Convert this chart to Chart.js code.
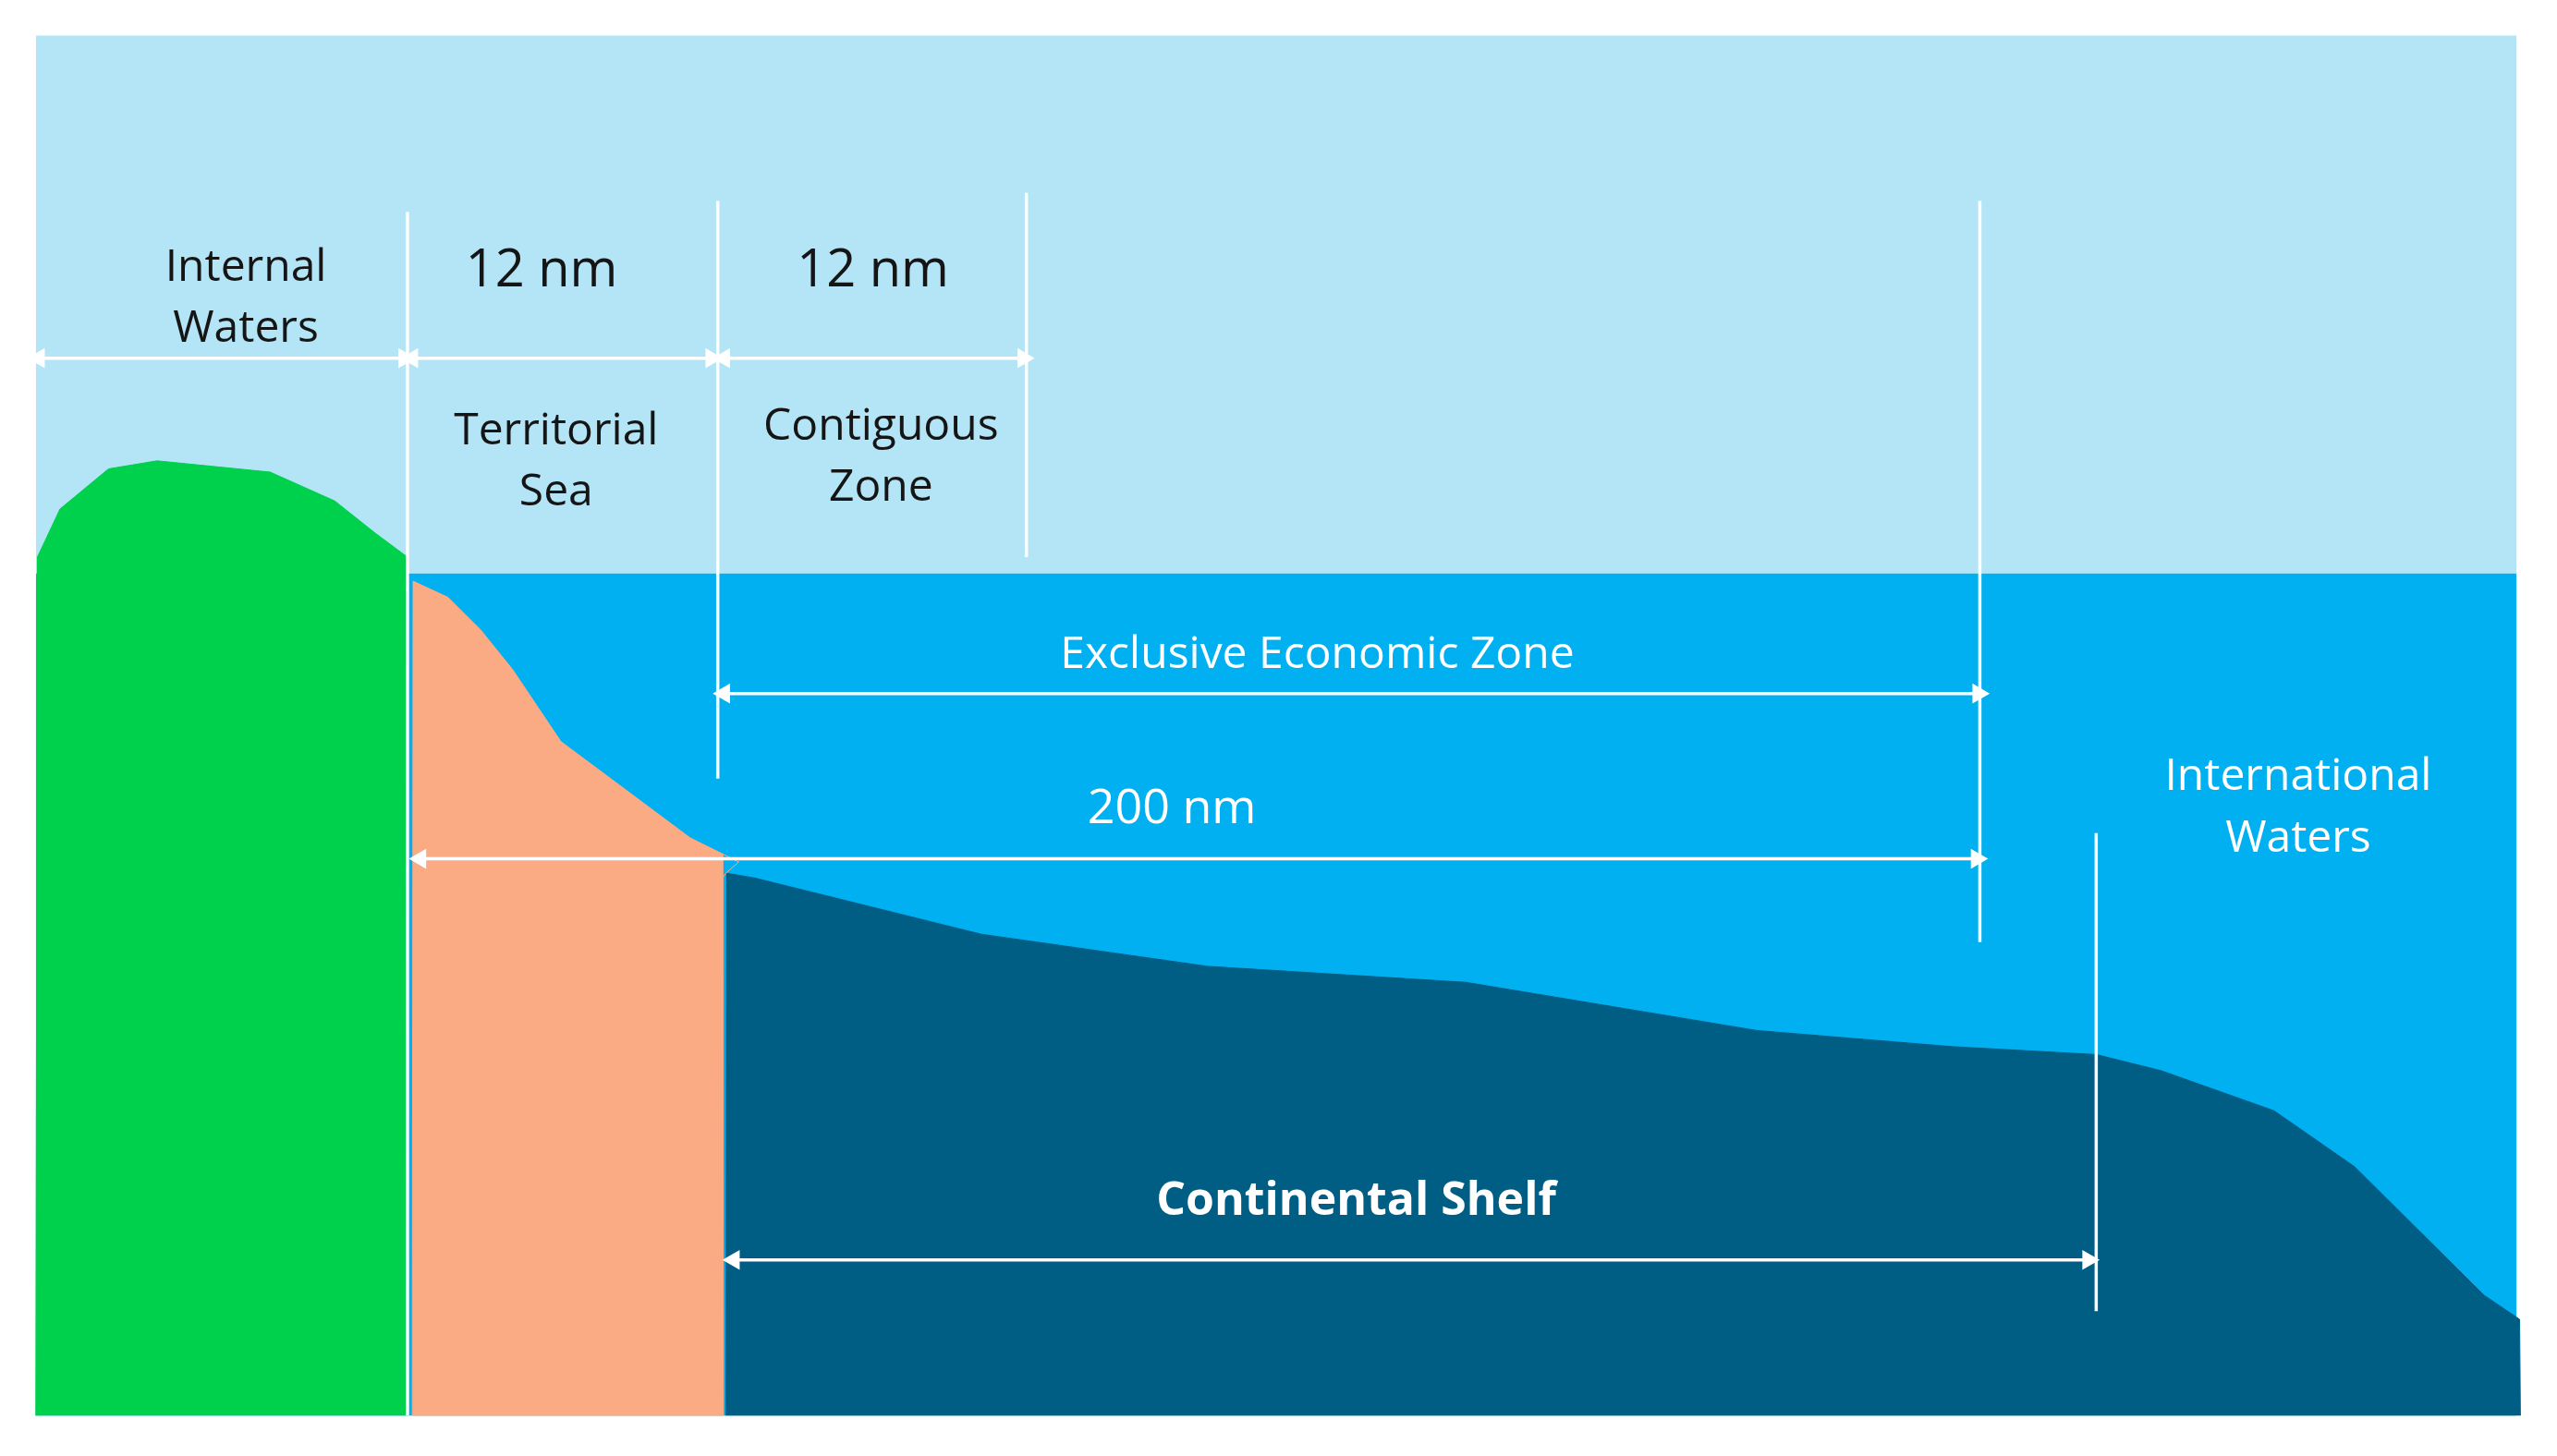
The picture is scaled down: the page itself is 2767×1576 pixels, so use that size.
<!DOCTYPE html>
<html>
<head>
<meta charset="utf-8">
<script src="https://cdn.jsdelivr.net/npm/chart.js@4"></script>
<style>
  html, body { margin: 0; padding: 0; background: #fff; }
  #wrap { width: 2767px; height: 1576px; }
</style>
</head>
<body>
<div id="wrap"><canvas id="zones"></canvas></div>
<script>
// profile data, in the reference diagram's own units (x 0..1568, y 0..893 downwards)
var landX  = [15, 16, 30, 60, 90, 160, 200, 225, 245, 245.5];
var landY  = [875, 340, 310, 285, 280, 287, 305, 325, 340, 875];

var slopeX = [248, 248.5, 270, 290, 310, 340, 380, 420, 450, 442, 440, 440.5];
var slopeY = [875, 355, 365, 385, 410, 455, 485, 515, 530, 537, 540, 875];

var shelfX = [442, 442.5, 460, 500, 600, 740, 900, 1080, 1200, 1290, 1330, 1400, 1450, 1500, 1530, 1552, 1552.5];
var shelfY = [875, 537, 540, 550, 575, 595, 605, 635, 645, 650, 660, 685, 720, 770, 800, 815, 875];

// zone boundaries: x, top, bottom
var boundX   = [245, 437, 628, 1218, 1290];
var boundTop = [125, 118, 113, 118, 512];
var boundBot = [875, 478, 340, 580, 810];

// measurement arrows: y, start, end
var arrowY    = [216, 216, 216, 425, 528, 778];
var arrowFrom = [17, 248, 441, 441, 253, 447];
var arrowTo   = [243, 433, 626, 1217, 1216, 1285];

var labels = ['Internal', 'Waters', '12 nm', '12 nm', 'Territorial', 'Sea', 'Contiguous', 'Zone',
              'Exclusive Economic Zone', '200 nm', 'International', 'Waters', 'Continental Shelf'];
var labelX = [145, 145, 328, 533, 337, 337, 538, 538, 808, 718, 1415, 1415, 832];
var labelY = [160, 198, 162, 162, 262, 300, 259, 297, 401, 497, 477, 516, 742];
var labelDark = [1, 1, 1, 1, 1, 1, 1, 1, 0, 0, 0, 0, 0];
var labelSize = [48, 48, 56, 56, 48, 48, 48, 48, 48, 52, 48, 48, 50];
var labelBold = [0, 0, 0, 0, 0, 0, 0, 0, 0, 0, 0, 0, 1];

function pts(xs, ys) { return xs.map(function (x, i) { return { x: x, y: ys[i] }; }); }

var datasets = [];
// terrain (first = drawn on top of the sea)
datasets.push({ data: pts(landX, landY), fill: { value: 875 }, backgroundColor: '#00d14d', borderColor: '#00d14d', borderWidth: 1, pointRadius: 0 });
datasets.push({ data: pts(slopeX, slopeY), fill: { value: 875 }, backgroundColor: '#fbab84', borderColor: '#fbab84', borderWidth: 1, pointRadius: 0 });
datasets.push({ data: pts(shelfX, shelfY), fill: { value: 875 }, backgroundColor: '#005e85', borderColor: '#005e85', borderWidth: 1, pointRadius: 0 });

var lines = [];
// boundaries
boundX.forEach(function (x, i) {
  lines.push({ data: [{ x: x, y: boundTop[i] }, { x: x, y: boundBot[i] }], borderColor: '#ffffff', borderWidth: 3.5, pointRadius: 0, fill: false });
});
// arrows
arrowY.forEach(function (y, i) {
  lines.push({
    data: [{ x: arrowFrom[i], y: y }, { x: arrowTo[i], y: y }],
    borderColor: '#ffffff', borderWidth: 3.5, fill: false,
    pointStyle: 'triangle', pointRadius: 9, pointRotation: [-90, 90],
    pointBackgroundColor: '#ffffff', pointBorderColor: '#ffffff'
  });
});
// sky and sea (last = drawn first)
var backs = [
  { data: pts([15, 1550], [15, 15]), fill: { value: 350 }, backgroundColor: '#b3e5f6', borderWidth: 0, pointRadius: 0 },
  { data: pts([15, 1550], [350, 350]), fill: { value: 875 }, backgroundColor: '#00b0f0', borderWidth: 0, pointRadius: 0 }
];
datasets = lines.concat(datasets).concat(backs);

var textPlugin = {
  id: 'zoneText',
  afterDatasetsDraw: function (chart) {
    var ctx = chart.ctx, xs = chart.scales.x, ys = chart.scales.y;
    ctx.save();
    ctx.textAlign = 'center';
    ctx.textBaseline = 'middle';
    labels.forEach(function (t, i) {
      ctx.font = (labelBold[i] ? 'bold ' : '') + labelSize[i] + 'px "Open Sans", sans-serif';
      ctx.fillStyle = labelDark[i] ? '#151515' : '#ffffff';
      ctx.fillText(t, xs.getPixelForValue(labelX[i]), ys.getPixelForValue(labelY[i]));
    });
    ctx.restore();
  }
};

new Chart(document.getElementById('zones'), {
  type: 'line',
  data: { datasets: datasets },
  plugins: [textPlugin],
  options: {
    responsive: true,
    maintainAspectRatio: false,
    animation: false,
    layout: { padding: 0 },
    showLine: true,
    plugins: { legend: { display: false }, tooltip: { enabled: false } },
    scales: {
      x: { type: 'linear', min: 0, max: 1568, display: false },
      y: { type: 'linear', min: 0, max: 893, reverse: true, display: false }
    }
  }
});
</script>
</body>
</html>
